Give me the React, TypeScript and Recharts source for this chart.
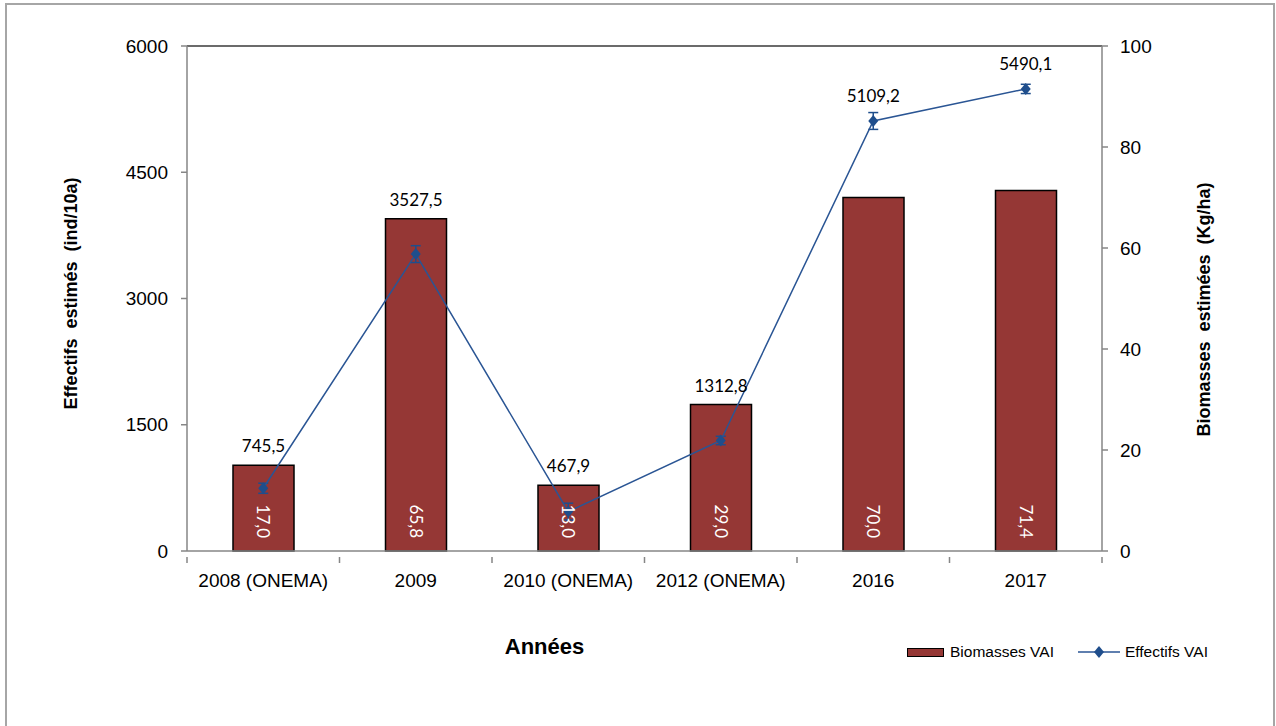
import React from "react";
import {
  ComposedChart,
  Bar,
  Line,
  XAxis,
  YAxis,
  LabelList,
  ErrorBar,
  ReferenceLine,
} from "recharts";

const categories = ["2008 (ONEMA)", "2009", "2010 (ONEMA)", "2012 (ONEMA)", "2016", "2017"];
const biomasses = [17.0, 65.8, 13.0, 29.0, 70.0, 71.4];
const effectifs = [745.5, 3527.5, 467.9, 1312.8, 5109.2, 5490.1];
const effectifsErr = [60, 100, 100, 50, 100, 55];
const leftTicks = [0, 1500, 3000, 4500, 6000];
const rightTicks = [0, 20, 40, 60, 80, 100];

const data = categories.map((c, i) => ({
  annee: c,
  biomasse: biomasses[i],
  effectif: effectifs[i],
  err: effectifsErr[i],
}));

const fmt = (v: number) => v.toFixed(1).replace(".", ",");
// label goes above the bar when the bar is higher than the point
const barHigher = (i: number) => biomasses[i] / 100 > effectifs[i] / 6000;

const BAR = "#953735";
const LINE = "#2A5594";
const MARK = "#1F4E8C";
const AXIS = "#868686";
const tickFont = { fontFamily: "Liberation Sans, Arial", fontSize: 19, fill: "#000" };
const labelFont = "Lato, Open Sans, sans-serif";
const titleStyle = {
  textAnchor: "middle",
  fontFamily: "Liberation Sans, Arial",
  fontSize: 18,
  fontWeight: "bold",
  fill: "#000",
} as any;

const Diamond = (props: any) => {
  const { cx, cy, index } = props;
  return (
    <path
      key={"d" + index}
      d={`M${cx},${cy - 6}L${cx + 5},${cy}L${cx},${cy + 6}L${cx - 5},${cy}Z`}
      fill={MARK}
    />
  );
};

const XTick = (props: any) => {
  const { x, y, payload, index } = props;
  const half = 76.25;
  return (
    <g>
      <line x1={x - half} y1={y - 17} x2={x - half} y2={y - 11} stroke={AXIS} strokeWidth={1.5} />
      {index === categories.length - 1 && (
        <line x1={x + half} y1={y - 17} x2={x + half} y2={y - 11} stroke={AXIS} strokeWidth={1.5} />
      )}
      <text x={x} y={y} dy="0.71em" textAnchor="middle" {...tickFont}>
        {payload.value}
      </text>
    </g>
  );
};

export default function App() {
  return (
    <div style={{ position: "fixed", left: 0, top: 0, width: 1276, height: 726, overflow: "hidden", background: "#fff" }}>
      <div
        style={{
          position: "absolute",
          left: 5,
          top: 3,
          width: 1266,
          height: 740,
          border: "2px solid #a6a6a6",
        }}
      />
      <ComposedChart
        width={1276}
        height={726}
        data={data}
        margin={{ top: 46, right: 0, bottom: 0, left: 0 }}
        barSize={61}
        style={{ position: "absolute", left: 0, top: 0 }}
      >
        <XAxis
          dataKey="annee"
          height={175}
          tickLine={false}
          axisLine={{ stroke: AXIS, strokeWidth: 1.5 }}
          tick={<XTick />}
          tickMargin={17}
          interval={0}
          label={{
            value: "Années",
            position: "insideBottom",
            offset: 72,
            dx: -100,
            style: { fontFamily: "Liberation Sans, Arial", fontSize: 22, fontWeight: "bold", fill: "#000" },
          }}
        />
        <YAxis
          yAxisId="left"
          width={187}
          domain={[0, 6000]}
          ticks={leftTicks}
          tickSize={6}
          tickMargin={13}
          tickLine={{ stroke: AXIS, strokeWidth: 1.5 }}
          axisLine={{ stroke: AXIS, strokeWidth: 1.5 }}
          tick={tickFont}
          label={{
            value: "Effectifs\u00A0\u00A0estimés\u00A0\u00A0(ind/10a)",
            angle: -90,
            position: "insideLeft",
            offset: 71,
            dy: -5,
            style: titleStyle,
          }}
        />
        <YAxis
          yAxisId="right"
          orientation="right"
          width={174}
          domain={[0, 100]}
          ticks={rightTicks}
          tickSize={6}
          tickMargin={12}
          tickLine={{ stroke: AXIS, strokeWidth: 1.5 }}
          axisLine={{ stroke: AXIS, strokeWidth: 1.5 }}
          tick={tickFont}
          label={{
            value: "Biomasses\u00A0\u00A0estimées\u00A0\u00A0(Kg/ha)",
            angle: -90,
            position: "insideRight",
            offset: 72,
            dy: 11,
            style: titleStyle,
          }}
        />
        <ReferenceLine yAxisId="left" y={6000} stroke="#3a3a3a" strokeWidth={1.5} />
        <Bar
          yAxisId="right"
          dataKey="biomasse"
          fill={BAR}
          stroke="#000"
          strokeWidth={1.5}
          isAnimationActive={false}
        >
          <LabelList
            dataKey="biomasse"
            content={(p: any) => {
              const cx = p.x + p.width / 2;
              const by = p.y + p.height - 13;
              return (
                <text
                  transform={`translate(${cx},${by}) rotate(90)`}
                  textAnchor="end"
                  dominantBaseline="central"
                  fill="#fff"
                  fontFamily={labelFont}
                  fontSize={17}
                >
                  {fmt(p.value)}
                </text>
              );
            }}
          />
          <LabelList
            dataKey="effectif"
            content={(p: any) =>
              barHigher(p.index) ? (
                <text x={p.x + p.width / 2} y={p.y - 13} textAnchor="middle" fill="#000" fontFamily={labelFont} fontSize={17}>
                  {fmt(p.value)}
                </text>
              ) : null
            }
          />
        </Bar>
        <Line
          yAxisId="left"
          type="linear"
          dataKey="effectif"
          stroke={LINE}
          strokeWidth={1.5}
          dot={<Diamond />}
          activeDot={false}
          isAnimationActive={false}
        >
          <ErrorBar dataKey="err" width={5} stroke={MARK} strokeWidth={1.5} direction="y" />
          <LabelList
            dataKey="effectif"
            content={(p: any) =>
              !barHigher(p.index) ? (
                <text x={p.x} y={p.y - 19} textAnchor="middle" fill="#000" fontFamily={labelFont} fontSize={17}>
                  {fmt(p.value)}
                </text>
              ) : null
            }
          />
        </Line>
      </ComposedChart>
      <div
        style={{
          position: "absolute",
          left: 907,
          top: 643,
          display: "flex",
          alignItems: "center",
          fontFamily: "Liberation Sans, Arial",
          fontSize: 15.5,
          color: "#000",
        }}
      >
        <div style={{ width: 35, height: 7, background: BAR, border: "1.5px solid #000" }} />
        <span style={{ marginLeft: 6 }}>Biomasses VAI</span>
        <svg width={42} height={14} style={{ marginLeft: 24 }}>
          <line x1={0} y1={7} x2={42} y2={7} stroke={LINE} strokeWidth={1.5} />
          <path d="M21,1L26,7L21,13L16,7Z" fill={MARK} />
        </svg>
        <span style={{ marginLeft: 5 }}>Effectifs VAI</span>
      </div>
    </div>
  );
}
